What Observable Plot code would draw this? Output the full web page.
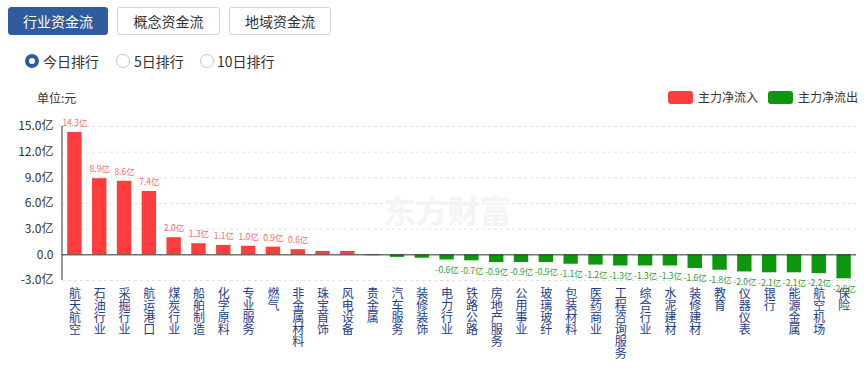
<!DOCTYPE html>
<html><head><meta charset="utf-8">
<script src="https://cdn.jsdelivr.net/npm/d3@7"></script>
<script src="https://cdn.jsdelivr.net/npm/@observablehq/plot@0.6"></script>
<style>
body{margin:0;background:#fff;font-family:"Noto Sans CJK SC","Noto Sans",sans-serif;}
#wrap{position:relative;width:868px;height:368px;overflow:hidden;}
.tab{position:absolute;top:7px;height:28px;box-sizing:border-box;border:1px solid #cfd6de;border-radius:3px;font-size:14px;line-height:26px;text-align:center;color:#333;background:#fff;}
.tab.on{background:#305b9e;color:#fff;border-color:#305b9e;}
.rt{position:absolute;top:51px;font-size:14px;color:#333;line-height:20px;}
.rc{position:absolute;top:54px;width:14px;height:14px;border-radius:50%;box-sizing:border-box;border:1px solid #c8c8c8;background:#fff;}
.rc.on{border:4px solid #305b9e;}
.unit{position:absolute;left:37px;top:89px;font-size:12px;color:#333;line-height:18px;}
.sw{position:absolute;top:91px;width:25px;height:13px;border-radius:3px;}
.lt{position:absolute;top:88px;font-size:12px;color:#333;line-height:18px;}
#chart{position:absolute;left:0;top:108px;}
</style></head>
<body><div id="wrap">
<div class="tab on" style="left:8px;width:100px;">行业资金流</div>
<div class="tab" style="left:117px;width:103px;">概念资金流</div>
<div class="tab" style="left:229px;width:102px;">地域资金流</div>
<div class="rc on" style="left:25px;"></div><div class="rt" style="left:43px;">今日排行</div>
<div class="rc" style="left:116px;"></div><div class="rt" style="left:134px;">5日排行</div>
<div class="rc" style="left:200px;"></div><div class="rt" style="left:217px;">10日排行</div>
<div class="unit">单位:元</div>
<div class="sw" style="left:668px;background:#ff3d3d;"></div><div class="lt" style="left:698px;">主力净流入</div>
<div class="sw" style="left:768px;background:#0f960f;"></div><div class="lt" style="left:798px;">主力净流出</div>
<div id="chart"></div>
</div>
<script>
const categories = ["航天航空","石油行业","采掘行业","航运港口","煤炭行业","船舶制造","化学原料","专业服务","燃气","非金属材料","珠宝首饰","风电设备","贵金属","汽车服务","装修装饰","电力行业","铁路公路","房地产服务","公用事业","玻璃玻纤","包装材料","医药商业","工程咨询服务","综合行业","水泥建材","装修建材","教育","仪器仪表","银行","能源金属","航空机场","保险"];
const values = [14.3,8.9,8.6,7.4,2.0,1.3,1.1,1.0,0.9,0.6,0.4,0.4,-0.1,-0.3,-0.4,-0.6,-0.7,-0.9,-0.9,-0.9,-1.1,-1.2,-1.3,-1.3,-1.3,-1.6,-1.8,-2.0,-2.1,-2.1,-2.2,-2.8];
const yTicks = [15,12,9,6,3,0,-3];
const watermark = ["东方财富"];

const data = categories.map((c,i)=>({name:c, value:values[i]}));
const pos = data.filter(d=>d.value>=0);
const neg = data.filter(d=>d.value<0);
const fmt = d => d.toFixed(1)+"亿";

const leftLine = (index, scales, values, dims) => {
  return d3.create("svg:line")
    .attr("x1", dims.marginLeft).attr("x2", dims.marginLeft)
    .attr("y1", scales.y(yTicks[0])).attr("y2", scales.y(yTicks[yTicks.length-1]))
    .attr("stroke", "#333").node();
};

const plot = Plot.plot({
  width:868, height:260, marginTop:18, marginBottom:88, marginLeft:62, marginRight:12,
  style:{fontFamily:"'Noto Sans CJK SC', sans-serif", background:"transparent", overflow:"visible"},
  x:{domain:categories, paddingInner:0.42, paddingOuter:0.21, round:false, label:null},
  y:{domain:[-3,15], label:null},
  marks:[
    Plot.gridY(yTicks,{stroke:"#e2e2e2", strokeOpacity:1, strokeDasharray:"3,3"}),
    Plot.text(watermark,{frameAnchor:"middle", dx:-12, dy:9, fontSize:32, fontWeight:"bold", fill:"#f4f4f4"}),
    Plot.barY(pos,{x:"name", y:"value", fill:"#ff3d3d"}),
    Plot.barY(neg,{x:"name", y:"value", fill:"#0f960f"}),
    Plot.ruleY([0],{stroke:"#333"}),
    leftLine,
    Plot.axisY({ticks:yTicks, tickSize:0, tickPadding:9, fontSize:12, fill:"#333", label:null,
      tickFormat:d=> d===0 ? "0.0" : fmt(d)}),
    Plot.axisX({tickSize:0, tickPadding:9, lineAnchor:"top", fontSize:12, lineHeight:1.0, label:null,
      fill:"#233d8c", tickFormat:d=>d.split("").join("\n")}),
    Plot.text(pos.filter(d=>d.value>=0.5),{x:"name", y:"value", text:d=>fmt(d.value), dy:-9, fill:"#f06a6a", fontSize:8.5}),
    Plot.text(neg.filter(d=>d.value<=-0.5),{x:"name", y:"value", text:d=>fmt(d.value), dy:10, fill:"#2f9a2f", fontSize:8.5})
  ]
});
document.getElementById("chart").appendChild(plot);
</script>
</body></html>
